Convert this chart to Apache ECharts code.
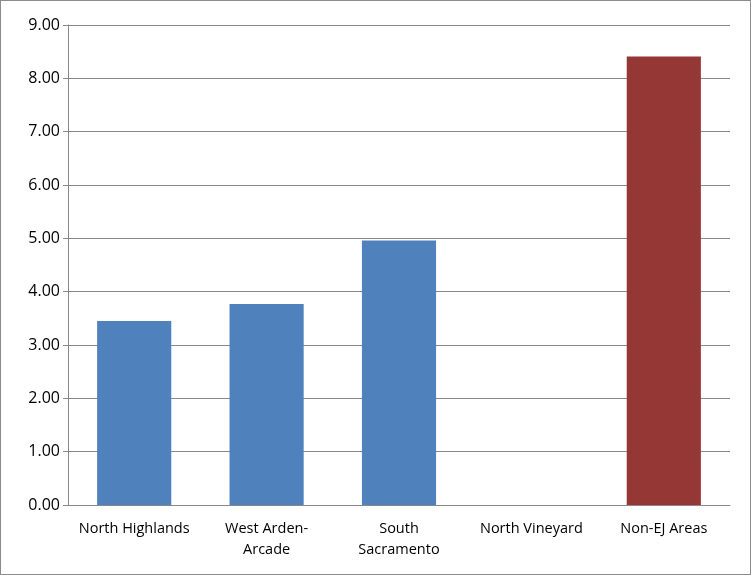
<!DOCTYPE html>
<html><head><meta charset="utf-8">
<script src="https://cdn.jsdelivr.net/npm/echarts@6/dist/echarts.min.js"></script>
<style>html,body{margin:0;padding:0;background:#fff}#c{width:751px;height:575px;box-sizing:border-box;border:1px solid #8c8c8c}</style>
</head><body><div id="c"></div>
<script>
const categories = ["North Highlands","West Arden-\nArcade","South\nSacramento","North Vineyard","Non-EJ Areas"];
const values = [3.45, 3.77, 4.96, 0, 8.41];
const barColors = ["#4F81BD","#4F81BD","#4F81BD","#4F81BD","#953735"];
const chart = echarts.init(document.getElementById('c'));
chart.setOption({
  animation:false,
  grid:{left:67,right:20,top:24,bottom:69},
  xAxis:{type:'category',data:categories,
    axisLine:{lineStyle:{color:'#888'}},
    axisTick:{show:false},
    axisLabel:{color:'#000',fontFamily:'Open Sans',fontSize:14.5,lineHeight:21,margin:13,interval:0}},
  yAxis:{type:'value',min:0,max:9,interval:1,
    axisLine:{show:true,lineStyle:{color:'#888'}},
    axisTick:{show:true,lineStyle:{color:'#888'}},
    splitLine:{lineStyle:{color:'#888'}},
    axisLabel:{color:'#000',fontFamily:'Open Sans',fontSize:16,formatter:v=>v.toFixed(2)}},
  series:[{type:'bar',barWidth:'56%',
    data:values.map((v,i)=>({value:v,itemStyle:{color:barColors[i]}}))}]
});
</script></body></html>
